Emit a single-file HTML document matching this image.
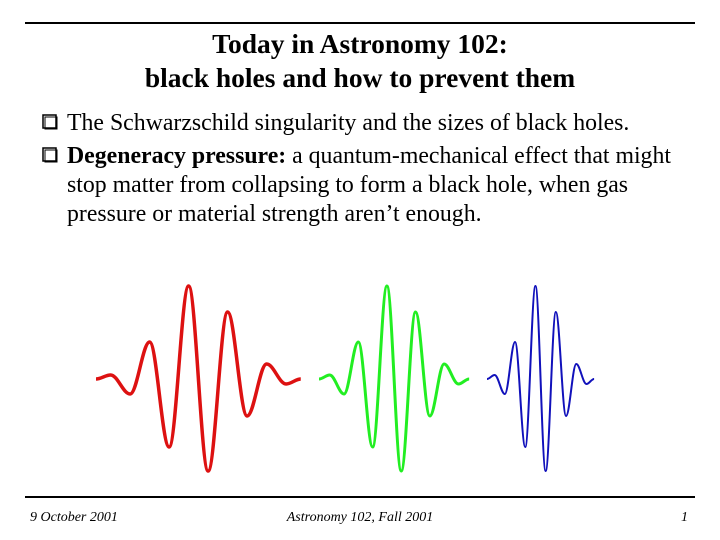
<!DOCTYPE html>
<html><head><meta charset="utf-8"><style>
html,body{margin:0;padding:0;background:#fff;}
svg{display:block;}
text{font-family:"Liberation Serif",serif;fill:#000;}
</style></head><body>
<svg id="s" width="720" height="540" viewBox="0 0 720 540">
<line x1="25" y1="23" x2="695" y2="23" stroke="#000" stroke-width="2"/>
<text x="360" y="53" font-size="27.5" font-weight="bold" text-anchor="middle">Today in Astronomy 102:</text>
<text x="360" y="87" font-size="27.5" font-weight="bold" text-anchor="middle">black holes and how to prevent them</text>
<rect x="43" y="115" width="13" height="13" fill="none" stroke="#000" stroke-width="1.5"/>
<rect x="45" y="117" width="12" height="12" fill="none" stroke="#000" stroke-width="1"/>
<text x="67" y="130" font-size="23.8">The Schwarzschild singularity and the sizes of black holes.</text>
<rect x="43" y="148" width="13" height="13" fill="none" stroke="#000" stroke-width="1.5"/>
<rect x="45" y="150" width="12" height="12" fill="none" stroke="#000" stroke-width="1"/>
<text x="67" y="163" font-size="23.8"><tspan font-weight="bold">Degeneracy pressure:</tspan> a quantum-mechanical effect that might</text>
<text x="67" y="192" font-size="23.8">stop matter from collapsing to form a black hole, when gas</text>
<text x="67" y="221" font-size="23.8">pressure or material strength aren’t enough.</text>
<g id="waves"></g>
<line x1="25" y1="497" x2="695" y2="497" stroke="#000" stroke-width="2"/>
<text x="30" y="521" font-size="14" font-style="italic">9 October 2001</text>
<text x="360" y="521" font-size="14" font-style="italic" text-anchor="middle">Astronomy 102, Fall 2001</text>
<text x="688" y="521" font-size="14" font-style="italic" text-anchor="end">1</text>
</svg>
<script>
// extrema amplitudes (px above baseline) shared by each packet
const amplitudes = [0, 4, -15, 37, -68, 93, -92, 67, -37, 15, -5, 0];
const packetColors = ['#dd1111', '#22ee22', '#1111bb'];
const packetStarts = [96, 319, 487];
const halfPeriods = [19.5, 14.3, 10.2];
const packetWidths = [3.5, 3, 2];
const baseline = 379;
const g = document.getElementById('waves');
const names = ['wave-red', 'wave-green', 'wave-blue'];
packetColors.forEach((c, i) => {
  const xs = amplitudes.map((a, k) => {
    if (k === 0) return packetStarts[i];
    if (k === amplitudes.length - 1) return packetStarts[i] + halfPeriods[i] * 10.5;
    return packetStarts[i] + halfPeriods[i] * (k - 0.25);
  });
  const ys = amplitudes.map(a => baseline - a);
  let d = 'M' + xs[0] + ' ' + ys[0];
  for (let k = 1; k < xs.length; k++) {
    const dx = (xs[k] - xs[k - 1]) * 0.36;
    d += ' C' + (xs[k - 1] + dx) + ' ' + ys[k - 1] + ' ' + (xs[k] - dx) + ' ' + ys[k] + ' ' + xs[k] + ' ' + ys[k];
  }
  const p = document.createElementNS('http://www.w3.org/2000/svg', 'path');
  p.setAttribute('d', d);
  p.setAttribute('fill', 'none');
  p.setAttribute('stroke', c);
  p.setAttribute('stroke-width', packetWidths[i]);
  p.setAttribute('stroke-linejoin', 'round');
  
  
  g.appendChild(p);
});
</script>
</body></html>
